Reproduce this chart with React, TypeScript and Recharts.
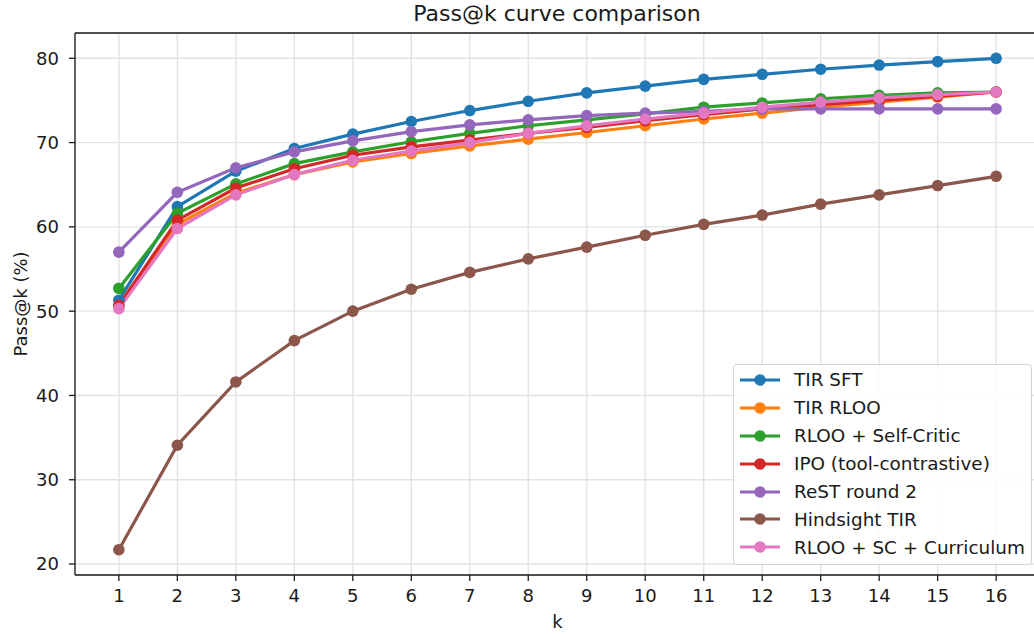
import { LineChart, Line, XAxis, YAxis, CartesianGrid, Legend, ReferenceLine } from 'recharts'

const K_VALUES = [1, 2, 3, 4, 5, 6, 7, 8, 9, 10, 11, 12, 13, 14, 15, 16]
const Y_TICKS = [20, 30, 40, 50, 60, 70, 80]
const Y_MIN = 18.7
const Y_MAX = 83.0

const TIR_SFT = [51.3, 62.4, 66.6, 69.3, 71.0, 72.5, 73.8, 74.9, 75.9, 76.7, 77.5, 78.1, 78.7, 79.2, 79.6, 80.0]
const TIR_RLOO = [50.5, 60.3, 64.0, 66.2, 67.7, 68.7, 69.6, 70.4, 71.2, 72.0, 72.8, 73.5, 74.2, 74.8, 75.4, 76.0]
const RLOO_SELF_CRITIC = [52.7, 61.6, 65.1, 67.5, 68.9, 70.1, 71.1, 72.0, 72.7, 73.4, 74.2, 74.7, 75.2, 75.6, 75.9, 76.0]
const IPO_TOOL = [50.7, 60.8, 64.6, 66.9, 68.5, 69.5, 70.3, 71.1, 71.8, 72.6, 73.3, 74.0, 74.5, 75.0, 75.5, 76.0]
const REST_ROUND2 = [57.0, 64.1, 67.0, 68.9, 70.2, 71.3, 72.1, 72.7, 73.2, 73.5, 73.7, 74.0, 74.0, 74.0, 74.0, 74.0]
const HINDSIGHT_TIR = [21.7, 34.1, 41.6, 46.5, 50.0, 52.6, 54.6, 56.2, 57.6, 59.0, 60.3, 61.4, 62.7, 63.8, 64.9, 66.0]
const RLOO_SC_CURRICULUM = [50.3, 59.8, 63.8, 66.2, 67.9, 69.0, 70.0, 71.1, 72.0, 72.8, 73.5, 74.2, 74.8, 75.3, 75.7, 76.0]

const SERIES = [
  { key: 'tirSft', name: 'TIR SFT', color: '#1f77b4', values: TIR_SFT },
  { key: 'tirRloo', name: 'TIR RLOO', color: '#ff7f0e', values: TIR_RLOO },
  { key: 'rlooSc', name: 'RLOO + Self-Critic', color: '#2ca02c', values: RLOO_SELF_CRITIC },
  { key: 'ipo', name: 'IPO (tool-contrastive)', color: '#d62728', values: IPO_TOOL },
  { key: 'rest', name: 'ReST round 2', color: '#9467bd', values: REST_ROUND2 },
  { key: 'hindsight', name: 'Hindsight TIR', color: '#8c564b', values: HINDSIGHT_TIR },
  { key: 'rlooScCur', name: 'RLOO + SC + Curriculum', color: '#e377c2', values: RLOO_SC_CURRICULUM },
]

const rows = K_VALUES.map((k, i) => {
  const row: { [key: string]: number } = { k }
  SERIES.forEach((s) => {
    row[s.key] = s.values[i]
  })
  return row
})

const FONT = '"DejaVu Sans", sans-serif'
const TEXT = '#1a1a1a'

// title + y label share the y-axis label slot
function AxisTitles() {
  return (
    <g fontFamily={FONT} fill={TEXT}>
      <text x={557} y={21} textAnchor="middle" fontSize={22}>
        Pass@k curve comparison
      </text>
      <text x={27} y={304} transform="rotate(-90 27 304)" textAnchor="middle" fontSize={18}>
        Pass@k (%)
      </text>
    </g>
  )
}

function LegendBox() {
  return (
    <div
      style={{
        width: 299,
        height: 201,
        boxSizing: 'border-box',
        background: 'rgba(255,255,255,0.85)',
        border: '1px solid #d4d4d4',
        borderRadius: 4,
        paddingTop: 1,
        fontFamily: FONT,
        fontSize: 18.4,
        color: TEXT,
      }}
    >
      {SERIES.map((s) => (
        <div key={s.key} style={{ height: 27.9, display: 'flex', alignItems: 'center', whiteSpace: 'nowrap' }}>
          <svg width={60} height={16} style={{ flex: 'none' }}>
            <line x1={6} x2={46} y1={8} y2={8} stroke={s.color} strokeWidth={3.2} />
            <circle cx={26} cy={8} r={5.8} fill={s.color} />
          </svg>
          <span>{s.name}</span>
        </div>
      ))}
    </div>
  )
}

export default function App() {
  return (
    <div
      style={{
        position: 'absolute',
        left: 0,
        top: 0,
        width: 1034,
        height: 634,
        overflow: 'hidden',
        background: '#fff',
      }}
    >
      <LineChart
        width={1050}
        height={634}
        data={rows}
        margin={{ top: 33, right: 10, bottom: 0, left: 0 }}
        style={{ fontFamily: FONT }}
      >
        <CartesianGrid stroke="#e3e3e3" strokeWidth={1.4} />
        <XAxis
          dataKey="k"
          type="number"
          domain={[0.25, 16.75]}
          ticks={K_VALUES}
          allowDataOverflow
          height={59}
          tickSize={6}
          tickMargin={8}
          stroke={TEXT}
          strokeWidth={1.3}
          tick={{ fontSize: 18, fill: TEXT, fontFamily: FONT }}
          label={{ value: 'k', position: 'insideBottom', offset: 6, fontSize: 18, fill: TEXT, fontFamily: FONT }}
        />
        <YAxis
          type="number"
          domain={[Y_MIN, Y_MAX]}
          ticks={Y_TICKS}
          allowDataOverflow
          width={75}
          tickSize={6}
          tickMargin={10}
          stroke={TEXT}
          strokeWidth={1.3}
          tick={{ fontSize: 18, fill: TEXT, fontFamily: FONT }}
          label={<AxisTitles />}
        />
        {/* top spine */}
        <ReferenceLine y={Y_MAX} stroke={TEXT} strokeWidth={1.6} ifOverflow="visible" />
        <Legend
          layout="horizontal"
          align="center"
          verticalAlign="middle"
          content={() => <LegendBox />}
          wrapperStyle={{ left: 733, top: 364, width: 299, height: 201, right: 'auto', bottom: 'auto' }}
        />
        {SERIES.map((s) => (
          <Line
            key={s.key}
            dataKey={s.key}
            name={s.name}
            type="linear"
            stroke={s.color}
            strokeWidth={3.2}
            dot={{ r: 5.8, fill: s.color, stroke: s.color, strokeWidth: 0 }}
            activeDot={false}
            isAnimationActive={false}
          />
        ))}
      </LineChart>
    </div>
  )
}
